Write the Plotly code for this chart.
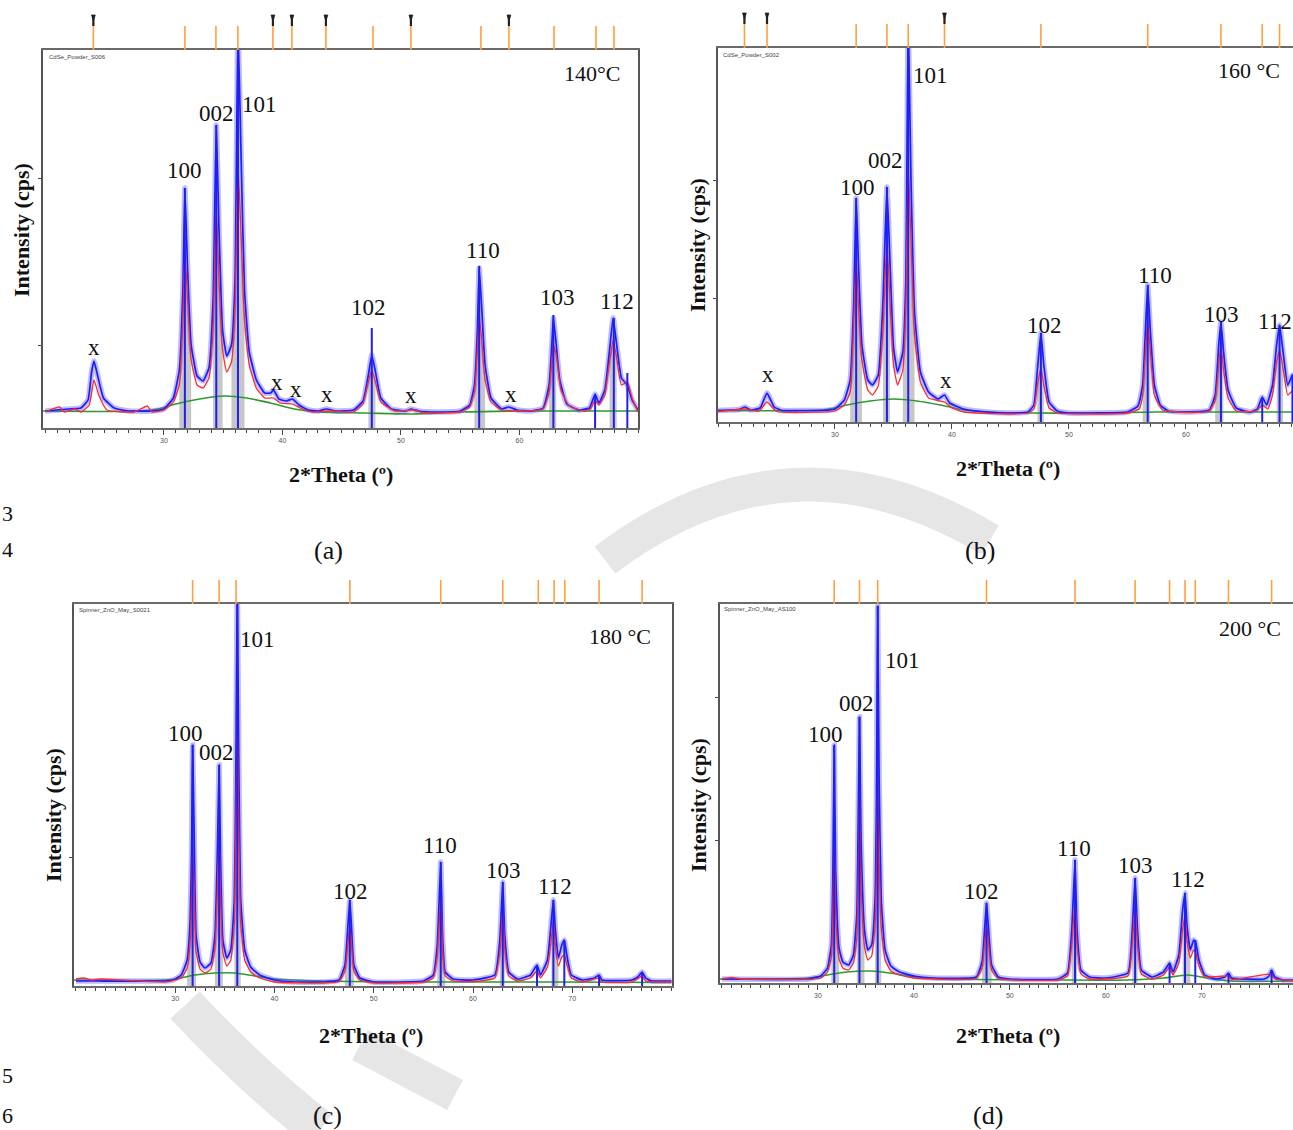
import plotly.graph_objects as go

# ---------------------------------------------------------------------------
# XRD patterns of ZnO films annealed at 140, 160, 180 and 200 °C.
# Each list holds (2θ in degrees, intensity in cps) pairs.
#   OBS_*    measured pattern (blue)
#   CALC_*   calculated profile (red)
#   BKG_*    fitted background (green)
#   STICK_*  peak positions and heights of the indexed reflections
#   REF_*    reference reflection positions (ticks above each panel)
#   IMP_*    reference positions of the impurity phase (marked "x")
#   SHADE_*  reflections whose integrated area is shaded
# ---------------------------------------------------------------------------

OBS_140 = [(20.0, 170), (21.0, 180), (22.0, 190), (23.0, 200), (23.6, 280), (23.9, 560), (24.1, 670),
           (24.4, 530), (24.9, 300), (25.8, 200), (27.0, 170), (29.0, 170), (30.0, 190), (30.8, 300),
           (31.3, 580), (31.6, 1380), (31.77, 2400), (32.0, 1580), (32.3, 830), (32.8, 520), (33.3, 470),
           (33.8, 600), (34.15, 1280), (34.42, 3030), (34.65, 1980), (34.95, 980), (35.3, 720), (35.7, 830),
           (36.0, 1480), (36.25, 4000), (36.5, 2780), (36.8, 1380), (37.2, 760), (37.8, 480), (38.5, 350),
           (39.0, 350), (39.25, 380), (39.7, 290), (40.3, 270), (40.85, 290), (41.4, 230), (42.2, 180),
           (43.0, 170), (43.7, 190), (44.5, 170), (46.0, 180), (46.8, 270), (47.25, 530), (47.54, 730),
           (47.85, 560), (48.3, 300), (49.2, 190), (50.4, 170), (50.85, 190), (51.5, 170), (53.0, 160),
           (55.0, 170), (55.8, 230), (56.2, 430), (56.45, 980), (56.6, 1600), (56.8, 1230), (57.1, 630),
           (57.6, 300), (58.5, 190), (59.1, 210), (59.8, 180), (61.0, 170), (62.0, 200), (62.5, 430),
           (62.75, 880), (62.86, 1100), (63.05, 900), (63.4, 480), (64.0, 240), (65.0, 180), (65.9, 200),
           (66.38, 340), (66.7, 250), (67.2, 380), (67.6, 780), (67.9, 1100), (68.2, 830), (68.6, 500),
           (69.1, 430), (69.5, 280), (70.0, 180)]
CALC_140 = [(20.0, 160), (21.2, 210), (21.6, 160), (22.5, 190), (23.0, 160), (23.7, 230), (24.1, 480),
            (24.5, 330), (25.2, 180), (27.5, 160), (28.6, 220), (29.0, 160), (30.0, 180), (30.8, 260),
            (31.3, 430), (31.6, 1080), (31.77, 1780), (32.0, 1280), (32.3, 680), (32.8, 430), (33.3, 400),
            (33.8, 500), (34.15, 980), (34.42, 2230), (34.65, 1480), (34.95, 780), (35.3, 560), (35.7, 660),
            (36.0, 1180), (36.25, 2630), (36.5, 1980), (36.8, 1080), (37.2, 630), (37.8, 400), (38.5, 300),
            (39.25, 300), (39.8, 250), (40.85, 240), (41.5, 200), (42.5, 160), (44.0, 170), (46.0, 160),
            (46.8, 240), (47.25, 460), (47.54, 580), (47.85, 460), (48.3, 260), (49.5, 170), (51.0, 180),
            (52.0, 150), (55.0, 160), (55.8, 210), (56.2, 360), (56.45, 780), (56.6, 1130), (56.8, 900),
            (57.1, 480), (57.6, 260), (58.5, 180), (60.0, 170), (62.0, 190), (62.5, 360), (62.86, 830),
            (63.1, 730), (63.5, 380), (64.2, 220), (65.5, 170), (66.0, 190), (66.38, 280), (66.7, 230),
            (67.2, 330), (67.6, 660), (67.9, 880), (68.2, 700), (68.6, 430), (69.1, 460), (69.5, 300),
            (70.0, 160)]
BKG_140 = [(19.8, 170), (28.0, 170), (29.5, 190), (31.0, 240), (33.0, 290), (35.0, 320), (37.0, 300),
           (39.0, 250), (41.0, 190), (43.0, 160), (47.0, 150), (51.0, 140), (55.0, 160), (60.0, 170),
           (70.0, 170)]
STICK_140 = [(31.77, 2400), (34.42, 3030), (36.25, 4000), (47.54, 1000), (56.6, 1620), (62.86, 1130),
             (66.38, 330), (67.96, 1100), (69.1, 550)]
REF_140 = [31.77, 34.39, 36.24, 47.64, 56.75, 62.91, 66.46, 67.97]
IMP_140 = [24.05, 39.2, 40.8, 43.67, 50.84, 59.11]
SHADE_140 = [31.77, 34.42, 36.25, 47.54, 56.6, 62.86, 67.9]

OBS_160 = [(20.0, 115), (21.0, 120), (21.8, 125), (22.3, 150), (22.8, 120), (23.6, 140), (24.19, 290),
           (24.8, 150), (25.5, 115), (27.0, 115), (29.0, 115), (30.0, 130), (30.8, 220), (31.3, 420),
           (31.6, 1200), (31.81, 2240), (32.0, 1600), (32.3, 770), (32.8, 420), (33.2, 370), (33.7, 470),
           (34.1, 1200), (34.44, 2350), (34.7, 1600), (35.0, 750), (35.35, 500), (35.8, 700), (36.05, 1400),
           (36.26, 4000), (36.5, 2400), (36.8, 1100), (37.3, 500), (38.0, 300), (38.8, 230), (39.36, 270),
           (39.8, 190), (41.0, 130), (43.0, 100), (45.0, 90), (46.5, 100), (47.0, 170), (47.3, 520),
           (47.6, 890), (47.85, 570), (48.3, 200), (49.0, 110), (50.0, 90), (52.0, 90), (55.0, 100),
           (55.9, 160), (56.3, 370), (56.5, 820), (56.73, 1370), (56.95, 920), (57.3, 370), (57.8, 170),
           (58.5, 110), (60.0, 100), (62.0, 120), (62.5, 270), (62.8, 770), (62.99, 1000), (63.2, 720),
           (63.6, 320), (64.3, 140), (65.5, 100), (66.1, 130), (66.52, 250), (66.9, 170), (67.4, 370),
           (67.75, 770), (68.0, 970), (68.3, 700), (68.7, 370), (69.1, 470), (69.15, 470)]
CALC_160 = [(20.0, 105), (22.3, 130), (23.5, 110), (24.19, 200), (25.0, 105), (30.0, 110), (30.8, 170),
            (31.3, 300), (31.6, 1000), (31.81, 1640), (32.0, 1200), (32.3, 620), (32.8, 320), (33.2, 270),
            (33.7, 360), (34.1, 920), (34.44, 1820), (34.7, 1220), (35.0, 570), (35.35, 370), (35.8, 520),
            (36.05, 1120), (36.26, 2570), (36.5, 1820), (36.8, 870), (37.3, 400), (38.0, 240), (39.36, 200),
            (40.0, 140), (41.0, 100), (45.0, 80), (46.5, 90), (47.0, 130), (47.3, 370), (47.6, 540),
            (47.85, 370), (48.3, 140), (49.0, 90), (52.0, 80), (55.0, 90), (56.0, 130), (56.3, 270),
            (56.5, 620), (56.73, 1020), (56.95, 720), (57.3, 270), (58.0, 120), (60.0, 95), (62.0, 110),
            (62.5, 220), (62.8, 570), (62.99, 770), (63.2, 540), (63.6, 240), (64.3, 110), (66.0, 110),
            (66.52, 170), (67.0, 130), (67.4, 270), (67.75, 600), (68.0, 720), (68.3, 540), (68.7, 270),
            (69.15, 320)]
BKG_160 = [(20.0, 115), (28.0, 115), (29.5, 130), (31.0, 170), (33.0, 210), (35.0, 230), (37.0, 210),
           (39.0, 170), (41.0, 120), (43.0, 100), (47.0, 90), (51.0, 90), (55.0, 95), (58.0, 100),
           (69.15, 100)]
STICK_160 = [(31.81, 2240), (34.44, 2350), (36.26, 4000), (47.6, 890), (56.73, 1370), (62.99, 1000),
             (66.52, 240), (68.0, 970), (69.1, 470)]
REF_160 = [31.81, 34.44, 36.26, 47.6, 56.73, 62.99, 66.52, 68.0]
IMP_160 = [22.26, 24.19, 39.36]
SHADE_160 = [31.81, 34.44, 36.26, 47.6, 56.73, 62.99, 68.0]

OBS_180 = [(20.0, 50), (22.0, 50), (29.0, 50), (29.8, 60), (30.6, 110), (31.2, 260), (31.5, 660),
           (31.65, 1360), (31.75, 2410), (31.9, 1560), (32.1, 510), (32.5, 240), (33.0, 180), (33.6, 230),
           (34.0, 510), (34.25, 1360), (34.42, 2210), (34.55, 1360), (34.8, 460), (35.2, 280), (35.6, 360),
           (35.95, 860), (36.1, 2060), (36.25, 4000), (36.4, 2260), (36.6, 860), (37.0, 360), (37.6, 190),
           (38.5, 110), (40.0, 60), (42.0, 40), (45.0, 40), (46.5, 60), (47.1, 210), (47.4, 610),
           (47.59, 860), (47.75, 610), (48.0, 210), (48.6, 80), (50.0, 40), (53.0, 40), (55.0, 50),
           (56.0, 110), (56.4, 410), (56.75, 1240), (56.95, 460), (57.2, 140), (58.0, 70), (60.0, 60),
           (62.2, 110), (62.7, 460), (63.0, 1040), (63.2, 510), (63.6, 140), (64.5, 70), (65.8, 110),
           (66.45, 210), (66.8, 110), (67.5, 260), (67.9, 660), (68.1, 860), (68.3, 560), (68.6, 280),
           (68.95, 410), (69.2, 460), (69.45, 310), (69.9, 110), (71.0, 60), (72.2, 80), (72.7, 110),
           (73.0, 60), (76.0, 60), (76.6, 90), (77.04, 140), (77.4, 80), (78.0, 50), (80.0, 50)]
CALC_180 = [(20.0, 70), (20.8, 80), (21.5, 60), (22.5, 70), (29.0, 40), (30.6, 80), (31.2, 180), (31.5, 450),
            (31.65, 900), (31.75, 1400), (31.9, 1000), (32.1, 350), (32.5, 170), (33.0, 130), (33.6, 170),
            (34.0, 380), (34.25, 950), (34.42, 1500), (34.55, 950), (34.8, 330), (35.2, 200), (35.6, 260),
            (35.95, 620), (36.1, 1500), (36.25, 2660), (36.4, 1600), (36.6, 620), (37.0, 260), (37.6, 140),
            (38.5, 80), (40.0, 40), (45.0, 30), (46.5, 45), (47.1, 150), (47.4, 430), (47.59, 610),
            (47.75, 430), (48.0, 150), (48.6, 60), (50.0, 30), (55.0, 40), (56.0, 80), (56.4, 300),
            (56.75, 910), (56.95, 330), (57.2, 100), (58.0, 50), (60.0, 45), (62.2, 80), (62.7, 330),
            (63.0, 760), (63.2, 370), (63.6, 100), (64.5, 50), (65.8, 80), (66.45, 150), (66.8, 80),
            (67.5, 190), (67.9, 480), (68.1, 660), (68.3, 410), (68.6, 200), (68.95, 290), (69.2, 310),
            (69.45, 220), (69.9, 80), (71.0, 40), (72.7, 80), (73.0, 40), (76.0, 40), (77.04, 100),
            (77.4, 50), (80.0, 40)]
BKG_180 = [(19.8, 60), (29.0, 60), (30.5, 80), (32.0, 110), (34.0, 130), (36.0, 130), (38.0, 100),
           (40.0, 70), (45.0, 50), (55.0, 40), (62.0, 40), (68.0, 40), (80.0, 35)]
STICK_180 = [(31.75, 2410), (34.42, 2210), (36.25, 4000), (47.59, 860), (56.75, 1240), (63.0, 1040),
             (66.45, 210), (68.1, 860), (69.2, 460), (72.7, 110), (77.04, 140)]
REF_180 = [31.75, 34.42, 36.13, 47.59, 56.75, 63.0, 66.58, 68.17, 69.25, 72.7, 77.04]
IMP_180 = []
SHADE_180 = [31.75, 34.42, 36.25, 47.59, 56.75, 63.0, 68.1]

OBS_200 = [(20.0, 40), (29.0, 40), (30.3, 70), (31.0, 150), (31.4, 380), (31.55, 1030), (31.7, 2380),
           (31.85, 1130), (32.2, 350), (32.6, 210), (33.2, 180), (33.7, 280), (34.05, 680), (34.2, 1630),
           (34.33, 2660), (34.5, 1430), (34.85, 530), (35.2, 330), (35.6, 380), (35.95, 830), (36.1, 1830),
           (36.23, 3770), (36.38, 2030), (36.6, 830), (37.0, 330), (37.6, 170), (38.5, 110), (40.0, 70),
           (42.0, 50), (46.5, 60), (47.1, 210), (47.4, 580), (47.57, 800), (47.75, 580), (48.1, 180),
           (48.8, 60), (50.0, 40), (55.0, 40), (56.0, 100), (56.45, 530), (56.79, 1230), (57.0, 530),
           (57.4, 130), (58.3, 60), (60.0, 50), (62.3, 100), (62.75, 530), (63.05, 1050), (63.3, 530),
           (63.7, 130), (64.8, 60), (66.0, 110), (66.64, 200), (67.0, 110), (67.6, 280), (68.0, 730),
           (68.25, 900), (68.45, 580), (68.8, 330), (69.15, 430), (69.35, 410), (69.7, 230), (70.3, 80),
           (71.5, 40), (72.4, 60), (72.78, 100), (73.1, 50), (76.5, 40), (77.0, 70), (77.27, 130),
           (77.6, 60), (78.5, 30), (79.5, 30)]
CALC_200 = [(20.0, 40), (21.0, 55), (22.0, 40), (29.0, 35), (30.3, 50), (31.0, 110), (31.4, 260),
            (31.55, 650), (31.7, 1430), (31.85, 700), (32.2, 240), (32.6, 150), (33.2, 130), (33.7, 200),
            (34.05, 450), (34.2, 1050), (34.33, 1930), (34.5, 950), (34.85, 360), (35.2, 230), (35.6, 270),
            (35.95, 560), (36.1, 1150), (36.23, 2030), (36.38, 1250), (36.6, 560), (37.0, 230), (37.6, 120),
            (38.5, 80), (40.0, 50), (46.5, 45), (47.1, 150), (47.4, 420), (47.57, 580), (47.75, 420),
            (48.1, 130), (48.8, 45), (55.0, 30), (56.0, 70), (56.45, 380), (56.79, 830), (57.0, 380),
            (57.4, 90), (58.3, 40), (62.3, 70), (62.75, 380), (63.05, 780), (63.3, 380), (63.7, 90),
            (64.8, 40), (66.0, 80), (66.64, 160), (67.0, 80), (67.6, 200), (68.0, 530), (68.25, 680),
            (68.45, 430), (68.8, 250), (69.15, 330), (69.35, 310), (69.7, 170), (70.3, 60), (72.78, 70),
            (73.1, 35), (77.27, 90), (77.6, 40), (79.5, 25)]
BKG_200 = [(19.8, 40), (29.0, 50), (31.0, 80), (33.0, 110), (35.5, 120), (37.5, 100), (40.0, 60),
           (44.0, 40), (55.0, 30), (62.0, 30), (66.0, 50), (68.5, 80), (70.5, 50), (73.0, 20), (79.5, 20)]
STICK_200 = [(31.7, 2380), (34.33, 2660), (36.23, 3770), (47.57, 800), (56.79, 1230), (63.05, 1050),
             (66.64, 200), (68.25, 900), (69.32, 430), (72.78, 100), (77.27, 130)]
REF_200 = [31.7, 34.33, 36.23, 47.57, 56.79, 63.05, 66.64, 68.25, 69.32, 72.78, 77.27]
IMP_200 = []
SHADE_200 = [31.7, 34.33, 36.23, 47.57, 56.79, 63.05, 68.25]

HKL = ["100", "002", "101", "102", "110", "103", "112"]
TEMPS = ["140°C", "160 °C", "180 °C", "200 °C"]
SAMPLES = ["CdSe_Powder_S006", "CdSe_Powder_S002", "Spinner_ZnO_May_S0021", "Spinner_ZnO_May_AS100"]
CAPTIONS = ["(a)", "(b)", "(c)", "(d)"]

# ---------------------------------------------------------------------------
W, H = 1293, 1130
SERIF = "Liberation Serif, Times New Roman, serif"


def fx(px):
    return px / W


def fy(py):
    return 1 - py / H


panels = [
    dict(obs=OBS_140, calc=CALC_140, bkg=BKG_140, sticks=STICK_140, ref=REF_140, imp=IMP_140,
         shade=SHADE_140, box=(43, 638, 50, 428), xrange=(19.8, 70.0), ymax=3780,
         xticks=[30, 40, 50, 60], yticks=[830, 2500], right=True,
         ytitle=(22, 230), xtitle=(341, 474), temp=(592, 73), cap=(328, 550), name=(47, 57),
         hkl=[(184, 170), (216, 114), (259, 104), (369, 307), (483, 250), (557, 297), (617, 302)],
         x_marks=[(94, 347), (277, 382), (296, 389), (327, 394), (411, 396), (511, 394)]),
    dict(obs=OBS_160, calc=CALC_160, bkg=BKG_160, sticks=STICK_160, ref=REF_160, imp=IMP_160,
         shade=SHADE_160, box=(718, 1293, 48, 422), xrange=(20.0, 69.15), ymax=3740,
         xticks=[30, 40, 50, 60], yticks=[1240, 2420], right=False,
         ytitle=(697, 245), xtitle=(1008, 468), temp=(1249, 71), cap=(980, 550), name=(721, 55),
         hkl=[(857, 188), (885, 160), (930, 76), (1044, 325), (1155, 275), (1221, 314), (1275, 321)],
         x_marks=[(768, 375), (946, 380)]),
    dict(obs=OBS_180, calc=CALC_180, bkg=BKG_180, sticks=STICK_180, ref=REF_180, imp=IMP_180,
         shade=SHADE_180, box=(74, 672, 604, 986), xrange=(19.8, 80.05), ymax=3820,
         xticks=[30, 40, 50, 60, 70], yticks=[1290], right=True,
         ytitle=(53, 815), xtitle=(371, 1035), temp=(620, 636), cap=(327, 1115), name=(77, 610),
         hkl=[(185, 733), (216, 752), (257, 639), (350, 891), (440, 845), (503, 870), (555, 886)],
         x_marks=[]),
    dict(obs=OBS_200, calc=CALC_200, bkg=BKG_200, sticks=STICK_200, ref=REF_200, imp=IMP_200,
         shade=SHADE_200, box=(720, 1293, 604, 983), xrange=(19.8, 79.5), ymax=3790,
         xticks=[30, 40, 50, 60, 70], yticks=[1430, 2860], right=False,
         ytitle=(698, 805), xtitle=(1008, 1035), temp=(1250, 628), cap=(988, 1115), name=(722, 609),
         hkl=[(825, 734), (856, 703), (902, 660), (981, 891), (1074, 848), (1135, 865), (1188, 879)],
         x_marks=[]),
]

fig = go.Figure()
shapes = []
annotations = []

# faint watermark strokes of the page, kept behind everything
for d, wdt in [("M 605,560 Q 790,420 990,540", 34),
               ("M 185,1005 Q 250,1075 320,1130", 40),
               ("M 360,1045 L 455,1095", 34)]:
    pts = d.split()
    path = []
    for tok in pts:
        if "," in tok:
            a, b = tok.split(",")
            path.append(f"{fx(float(a))},{fy(float(b))}")
        else:
            path.append(tok)
    shapes.append(dict(type="path", xref="paper", yref="paper", path=" ".join(path),
                       line=dict(color="#e6e6e6", width=wdt), layer="below"))


def unzip(pairs):
    return [p[0] for p in pairs], [p[1] for p in pairs]


def label(text, px, py, size, family=SERIF, angle=0, xanchor="center", color="#111"):
    annotations.append(dict(text=text, x=fx(px), y=fy(py), xref="paper", yref="paper",
                            xanchor=xanchor, yanchor="middle", showarrow=False, textangle=angle,
                            font=dict(family=family, size=size, color=color)))


for i, p in enumerate(panels):
    n = "" if i == 0 else str(i + 1)
    xa, ya = "x" + n, "y" + n
    left, right, top, bottom = p["box"]

    # shaded integrated areas under the calculated profile
    sx, sy = [], []
    for c in p["shade"]:
        pts = [(x, y) for x, y in p["calc"] if abs(x - c) <= 0.56]
        if not pts:
            continue
        sx += [pts[0][0]] + [q[0] for q in pts] + [pts[-1][0], None]
        sy += [0] + [q[1] for q in pts] + [0, None]
    fig.add_trace(go.Scatter(x=sx, y=sy, xaxis=xa, yaxis=ya, mode="lines", fill="toself",
                             fillcolor="rgba(185,185,185,0.8)", line=dict(width=0),
                             hoverinfo="skip", showlegend=False))

    bx, by = unzip(p["bkg"])
    fig.add_trace(go.Scatter(x=bx, y=by, xaxis=xa, yaxis=ya, mode="lines",
                             line=dict(color="#2e9a2e", width=1.6, shape="spline", smoothing=0.8),
                             showlegend=False))
    ox, oy = unzip(p["obs"])
    fig.add_trace(go.Scatter(x=ox, y=oy, xaxis=xa, yaxis=ya, mode="lines",
                             line=dict(color="rgba(95,95,255,0.42)", width=5.5,
                                       shape="spline", smoothing=0.4), showlegend=False))
    fig.add_trace(go.Scatter(x=ox, y=oy, xaxis=xa, yaxis=ya, mode="lines",
                             line=dict(color="#1c1cff", width=1.7, shape="spline", smoothing=0.4),
                             showlegend=False))
    cx, cy = unzip(p["calc"])
    fig.add_trace(go.Scatter(x=cx, y=cy, xaxis=xa, yaxis=ya, mode="lines",
                             line=dict(color="#ff2a2a", width=1.3, shape="spline", smoothing=0.4),
                             showlegend=False))

    kx, ky = [], []
    for x, h in p["sticks"]:
        kx += [x, x, None]
        ky += [0, h, None]
    fig.add_trace(go.Scatter(x=kx, y=ky, xaxis=xa, yaxis=ya, mode="lines",
                             line=dict(color="#2020e8", width=2), showlegend=False))

    # reference ticks above the frame; impurity ones are taller and carry a black head
    for x in p["ref"]:
        shapes.append(dict(type="line", xref=xa, yref="paper", x0=x, x1=x,
                           y0=fy(top), y1=fy(top - 24), line=dict(color="#ffa040", width=1.6)))
    for x in p["imp"]:
        shapes.append(dict(type="line", xref=xa, yref="paper", x0=x, x1=x,
                           y0=fy(top), y1=fy(top - 30), line=dict(color="#ffa040", width=1.6)))
        shapes.append(dict(type="line", xref=xa, yref="paper", x0=x, x1=x,
                           y0=fy(top - 24), y1=fy(top - 34), line=dict(color="#222", width=2.2)))
        shapes.append(dict(type="path", xref=xa, yref="paper",
                           path=f"M {x - 0.16},{fy(top - 35)} L {x + 0.16},{fy(top - 35)} "
                                f"L {x},{fy(top - 29)} Z",
                           fillcolor="#222", line=dict(color="#222", width=0.8)))

    fig.layout["xaxis" + n] = dict(
        domain=[fx(left), fx(right)], range=list(p["xrange"]), anchor=ya, showgrid=False,
        zeroline=False, showline=True, linecolor="#6a6a6a", linewidth=1.6, mirror=True,
        tickvals=p["xticks"], ticks="outside", ticklen=5, tickcolor="#444", tickwidth=1,
        minor=dict(dtick=1, tick0=0, ticks="outside", ticklen=3, tickcolor="#444"),
        tickfont=dict(size=7, color="#555", family="Arial"))
    fig.layout["yaxis" + n] = dict(
        domain=[fy(bottom), fy(top)], range=[0, p["ymax"]], anchor=xa, showgrid=False,
        zeroline=False, showline=True, linecolor="#555", linewidth=1.5, mirror=p["right"],
        tickvals=p["yticks"], ticks="outside", ticklen=3, tickcolor="#444", showticklabels=False)

    label("<b>Intensity (cps)</b>", *p["ytitle"], 22, angle=-90)
    label("<b>2*Theta (º)</b>", *p["xtitle"], 22)
    label(TEMPS[i], *p["temp"], 22)
    label(CAPTIONS[i], *p["cap"], 26)
    label(SAMPLES[i], *p["name"], 6, family="Arial", xanchor="left", color="#444")
    for lab, (lx, ly) in zip(HKL, p["hkl"]):
        label(lab, lx, ly, 23)
    for lx, ly in p["x_marks"]:
        label("x", lx, ly, 23)

# line numbers in the page margin
for num, ly in [("3", 513), ("4", 549), ("5", 1075), ("6", 1115)]:
    label(num, 0, ly, 22, xanchor="left")

fig.update_layout(width=W, height=H, margin=dict(l=0, r=0, t=0, b=0),
                  paper_bgcolor="white", plot_bgcolor="white",
                  shapes=shapes, annotations=annotations, showlegend=False)

fig.write_html("out.html")
